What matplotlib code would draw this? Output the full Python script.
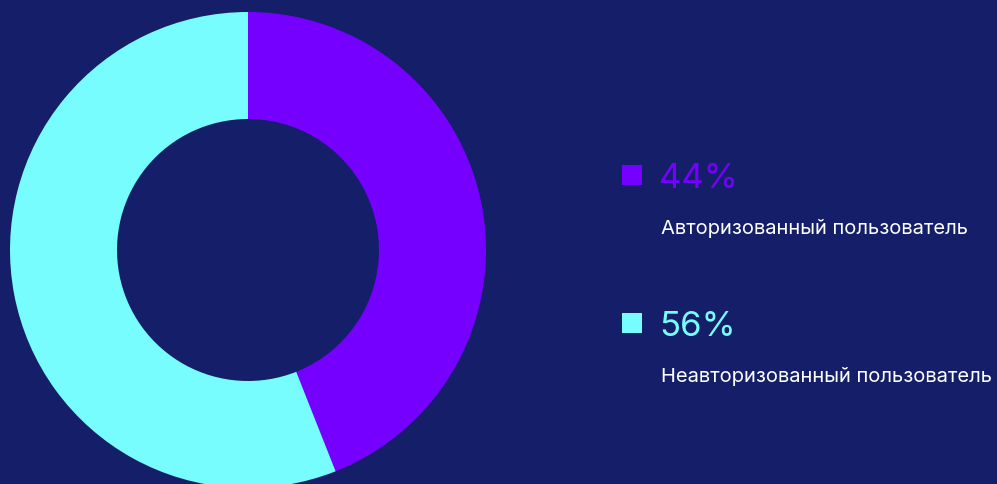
import matplotlib.pyplot as plt

shares = [44, 56]
labels = ['Авторизованный пользователь', 'Неавторизованный пользователь']
colors = ['#7500ff', '#78fdff']
bg = '#151f69'

W, H = 997, 484

fig = plt.figure(figsize=(W / 100, H / 100), dpi=100, facecolor=bg)
ax = fig.add_axes([0, 0, 1, 1])
ax.set_facecolor(bg)

# donut, pixel coordinates (y measured up from the bottom)
ax.pie(shares, colors=colors, startangle=90, counterclock=False,
       center=(248, H - 250), radius=238, frame=True,
       wedgeprops=dict(width=107, linewidth=0))
ax.set_xlim(0, W)
ax.set_ylim(0, H)
ax.set_aspect('equal')
ax.axis('off')

# legend block
for i, (v, lab, c) in enumerate(zip(shares, labels, colors)):
    top = i * 148
    ax.add_patch(plt.Rectangle((622, H - 185 - top), 20, 20, color=c, lw=0))
    ax.text(659, H - 188 - top, f'{v}%', color=c, fontsize=25,
            va='baseline', ha='left', family='Inter')
    ax.text(661, H - 234 - top, lab, color='white', fontsize=14.5,
            va='baseline', ha='left', family='Inter')

fig.savefig('out.png', dpi=100, facecolor=bg)
